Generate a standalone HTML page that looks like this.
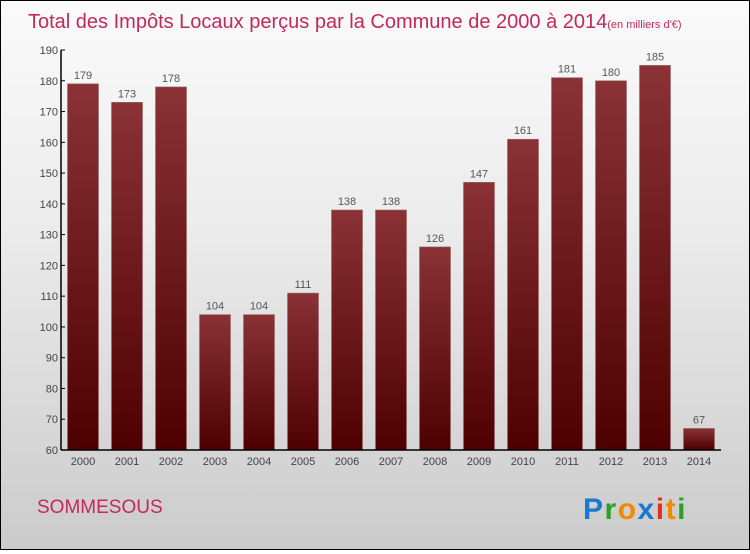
<!DOCTYPE html>
<html><head><meta charset="utf-8"><style>
html,body{margin:0;padding:0}
body{width:750px;height:550px;overflow:hidden;font-family:"Liberation Sans",sans-serif}
#wrap{position:relative;width:748px;height:548px;border:1px solid #000;background:linear-gradient(#fafafa,#ececec 40%,#cbcbcb)}
</style></head><body>
<div id="wrap">
<svg width="748" height="548" viewBox="0 0 748 548">
<defs><linearGradient id="bg" x1="0" y1="0" x2="0" y2="1"><stop offset="0" stop-color="#8a3236"/><stop offset="1" stop-color="#4e0000"/></linearGradient></defs>
<text x="27" y="27" font-size="20" fill="#c4285a">Total des Impôts Locaux perçus par la Commune de 2000 à 2014<tspan font-size="11">(en milliers d'€)</tspan></text>
<g id="plot"></g>
<text x="36" y="512" font-size="19" fill="#c4285a">SOMMESOUS</text>
<text x="582" y="518" font-size="30" font-weight="bold" letter-spacing="1.5"><tspan fill="#1a78d0">P</tspan><tspan fill="#2aa02a">r</tspan><tspan fill="#f08a00">o</tspan><tspan fill="#1a78d0">x</tspan><tspan fill="#e03020">i</tspan><tspan fill="#f08a00">t</tspan><tspan fill="#2aa02a">i</tspan></text>
</svg>
</div>
<script>
const years=["2000","2001","2002","2003","2004","2005","2006","2007","2008","2009","2010","2011","2012","2013","2014"];
const values=[179,173,178,104,104,111,138,138,126,147,161,181,180,185,67];
const yTicks=[60,70,80,90,100,110,120,130,140,150,160,170,180,190];
const NS="http://www.w3.org/2000/svg";
const g=document.getElementById('plot');
const x0=60,x1=720,yTop=49,yBot=449,vMin=60,vMax=190;
const y=v=>yBot-(v-vMin)/(vMax-vMin)*(yBot-yTop);
const step=(x1-x0)/years.length;
const xc=i=>x0+step*(i+0.5);
function mk(t,a){const e=document.createElementNS(NS,t);for(const k in a)e.setAttribute(k,a[k]);g.appendChild(e);return e;}
yTicks.forEach(v=>{
 const l=mk('line',{x1:x0,x2:x0+4,y1:y(v),y2:y(v),stroke:'#000'});
 
 
 const t=mk('text',{x:x0-3,y:y(v)+4,'font-size':11,'text-anchor':'end',fill:'#444'});
 t.textContent=v;
 
 
});
values.forEach((v,i)=>{
 const r=mk('rect',{x:xc(i)-15.5,y:y(v),width:31,height:yBot-y(v),fill:'url(#bg)',stroke:'#9a6a6a','stroke-width':0.6});
 
 
 const t=mk('text',{x:xc(i),y:y(v)-5,'font-size':11,'text-anchor':'middle',fill:'#555'});
 t.textContent=v;
 
 
 const xl=mk('text',{x:xc(i),y:yBot+15,'font-size':11,'text-anchor':'middle',fill:'#444'});
 xl.textContent=years[i];
 
 
});
const ya=mk('line',{x1:x0,x2:x0,y1:yTop,y2:yBot,stroke:'#000','stroke-width':1.5});


const xa=mk('line',{x1:x0,x2:x1,y1:yBot,y2:yBot,stroke:'#000','stroke-width':1.5});


</script>
</body></html>
